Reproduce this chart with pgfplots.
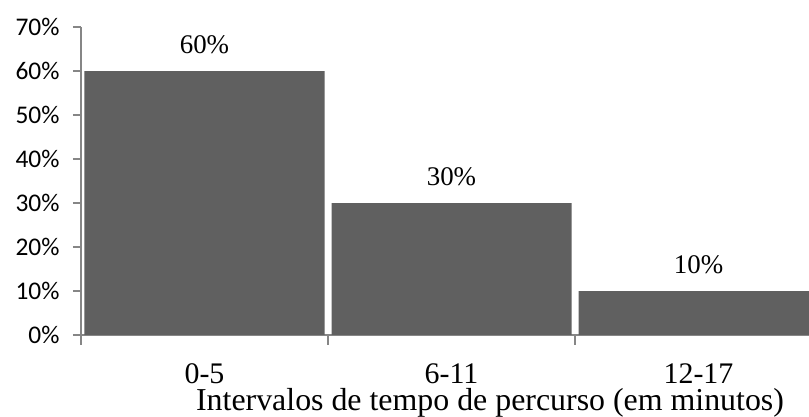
\documentclass[border=0pt]{standalone}
\usepackage{pgfplots}
\pgfplotsset{compat=1.18}
\usepackage{fontspec}
\setmainfont{Liberation Serif}
\newfontfamily\carlito{Carlito}
\definecolor{barfill}{RGB}{96,96,96}
\definecolor{axisgray}{RGB}{134,134,134}

\begin{document}
\begin{tikzpicture}
\path[use as bounding box, clip] (0,0) rectangle (809bp,417bp);
\begin{axis}[
  at={(81bp,82bp)}, anchor=south west,
  scale only axis, width=741bp, height=308bp,
  xmin=-0.5, xmax=2.5, ymin=0, ymax=70,
  axis x line*=bottom, axis y line*=left,
  axis line style={axisgray, line width=1.3bp},
  every tick/.style={axisgray, line width=1.3bp},
  tick align=outside,
  major tick length=8bp, minor tick length=10bp,
  xtick={0,1,2}, xticklabels={0-5,6-11,12-17},
  major x tick style={draw=none},
  minor xtick={-0.5,0.5,1.5,2.5},
  ytick={0,10,...,70},
  yticklabel={\pgfmathprintnumber{\tick}\%},
  /pgf/number format/assume math mode=true,
  yticklabel style={font=\carlito\fontsize{25.5}{28}\selectfont, anchor=east, text=black, xshift=-10bp},
  xticklabel style={font=\fontsize{30}{34}\selectfont, anchor=base, yshift=-40bp},
  xlabel={Intervalos de tempo de percurso (em minutos)},
  xlabel style={font=\fontsize{32}{34}\selectfont, at={(axis description cs:0.552,0)}, anchor=base, yshift=-75bp},
  ybar, bar width=240bp, bar shift=0pt,
  nodes near coords={\pgfmathprintnumber{\pgfplotspointmeta}\%},
  every node near coord/.append style={font=\fontsize{27}{30}\selectfont, anchor=base, yshift=18bp, text=black},
]
\addplot[fill=barfill, draw=none] coordinates {(0,60) (1,30) (2,10)};
\end{axis}
\end{tikzpicture}
\end{document}
